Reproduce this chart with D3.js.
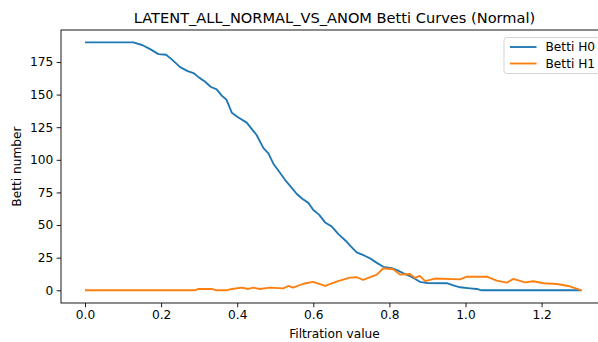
<!DOCTYPE html>
<html>
<head>
<meta charset="utf-8">
<script src="https://cdn.jsdelivr.net/npm/d3@7"></script>
<style>
  html, body { margin: 0; padding: 0; background: #fff; }
  svg { display: block; font-family: "DejaVu Sans", sans-serif; }
</style>
</head>
<body>
<div id="chart"></div>
<script>
// ---- data ----
const titleText = "LATENT_ALL_NORMAL_VS_ANOM Betti Curves (Normal)";
const xLabel = "Filtration value";
const yLabel = "Betti number";
const seriesNames = ["Betti H0", "Betti H1"];

const h0X = [0, 0.127, 0.15, 0.17, 0.193, 0.213, 0.228, 0.25, 0.27, 0.285, 0.30, 0.315, 0.33, 0.346, 0.36, 0.372, 0.386, 0.40, 0.425, 0.44, 0.451, 0.469, 0.482, 0.495, 0.51, 0.526, 0.539, 0.556, 0.572, 0.587, 0.60, 0.615, 0.631, 0.648, 0.666, 0.685, 0.696, 0.714, 0.735, 0.749, 0.767, 0.784, 0.806, 0.82, 0.837, 0.86, 0.88, 0.90, 0.951, 0.97, 0.986, 1.012, 1.03, 1.042, 1.305];
const h0Y = [190, 190, 188, 185, 181, 180.5, 177, 171, 168, 166.5, 163, 160, 156, 154, 149, 146, 136, 133, 128.5, 123, 119, 109, 105, 97, 91, 84.5, 80, 74, 70, 67, 61.5, 58, 52, 49, 43, 38, 34.5, 29, 26.5, 24.5, 21, 18, 17, 15.5, 13, 10, 6.5, 5.5, 5.4, 3.5, 2.3, 1.5, 1, 0, 0];

const h1X = [0, 0.289, 0.298, 0.333, 0.346, 0.372, 0.386, 0.412, 0.429, 0.442, 0.46, 0.486, 0.521, 0.534, 0.547, 0.574, 0.6, 0.631, 0.661, 0.696, 0.714, 0.731, 0.767, 0.784, 0.81, 0.828, 0.854, 0.867, 0.88, 0.894, 0.92, 0.986, 1.003, 1.056, 1.082, 1.108, 1.126, 1.156, 1.178, 1.205, 1.24, 1.27, 1.305];
const h1Y = [0, 0, 1, 1, 0, 0, 1, 2, 1, 2, 1, 2, 1.5, 3.3, 2, 5, 6.5, 3.3, 6.6, 9.7, 10, 8, 12, 16.9, 16.1, 12, 12.5, 9.5, 11, 7, 9, 8.4, 10.4, 10.4, 7.4, 5.8, 8.7, 6.1, 6.9, 5.4, 4.8, 3.3, 0];

const xTicks = [0.0, 0.2, 0.4, 0.6, 0.8, 1.0, 1.2];
const yTicks = [0, 25, 50, 75, 100, 125, 150, 175];
const colors = ["#1f77b4", "#ff7f0e"];

// ---- layout ----
const W = 598, H = 342;
const padL = 61, padR = 608, padT = 30, padB = 303;
const fs = 12.2;

const svg = d3.select("#chart").append("svg")
  .attr("width", W).attr("height", H);

const x = d3.scaleLinear().domain([-0.0631, 1.3745]).range([padL, padR]);
const y = d3.scaleLinear().domain([-9.75, 199.5]).range([padB, padT]);

// lines
const series = [
  h0X.map((v, i) => [v, h0Y[i]]),
  h1X.map((v, i) => [v, h1Y[i]])
];
const line = d3.line().x(d => x(d[0])).y(d => y(d[1]));

const plot = svg.append("g");
plot.append("defs").append("clipPath").attr("id", "clip")
  .append("rect").attr("x", padL).attr("y", padT)
  .attr("width", padR - padL).attr("height", padB - padT);

series.forEach((s, i) => {
  plot.append("path")
    .datum(s)
    .attr("clip-path", "url(#clip)")
    .attr("fill", "none")
    .attr("stroke", colors[i])
    .attr("stroke-width", 1.85)
    .attr("stroke-linejoin", "round")
    .attr("stroke-linecap", "butt")
    .attr("d", line);
});

// axes
const xAxis = d3.axisBottom(x).tickValues(xTicks).tickFormat(d3.format(".1f"))
  .tickSize(4.3).tickPadding(3.5);
const yAxis = d3.axisLeft(y).tickValues(yTicks).tickFormat(d3.format("d"))
  .tickSize(4.3).tickPadding(3.5);

const gx = svg.append("g").attr("transform", `translate(0,${padB})`).call(xAxis);
const gy = svg.append("g").attr("transform", `translate(${padL},0)`).call(yAxis);
[gx, gy].forEach(g => {
  g.select(".domain").remove();
  g.selectAll(".tick line").attr("stroke", "#000").attr("stroke-width", 0.9);
  g.selectAll(".tick text").attr("fill", "#000")
    .style("font-family", "DejaVu Sans, sans-serif").style("font-size", fs + "px");
});

// spines
const sp = svg.append("g").attr("stroke", "#000").attr("stroke-width", 0.9).attr("fill", "none");
sp.append("rect").attr("x", padL).attr("y", padT).attr("width", padR - padL).attr("height", padB - padT);

// labels
svg.append("text").attr("x", (padL + padR) / 2).attr("y", 22.5)
  .attr("text-anchor", "middle").style("font-size", "14.6px").attr("fill", "#000")
  .text(titleText);
svg.append("text").attr("x", (padL + padR) / 2).attr("y", 337.5)
  .attr("text-anchor", "middle").style("font-size", fs + "px").attr("fill", "#000")
  .text(xLabel);
svg.append("text")
  .attr("transform", `translate(20.5,${(padT + padB) / 2}) rotate(-90)`)
  .attr("text-anchor", "middle").style("font-size", fs + "px").attr("fill", "#000")
  .text(yLabel);

// legend
const lg = svg.append("g");
const lx = 504, ly = 37.5, lw = 97, lh = 36;
lg.append("rect").attr("x", lx).attr("y", ly).attr("width", lw).attr("height", lh)
  .attr("rx", 2.5).attr("fill", "#fff").attr("fill-opacity", 0.8)
  .attr("stroke", "#d0d0d0").attr("stroke-width", 0.9);
seriesNames.forEach((name, i) => {
  const cy = ly + 9.5 + i * 16.5;
  lg.append("line").attr("x1", lx + 6).attr("x2", lx + 32.5)
    .attr("y1", cy).attr("y2", cy)
    .attr("stroke", colors[i]).attr("stroke-width", 1.85);
  lg.append("text").attr("x", lx + 41.5).attr("y", cy + 4.3)
    .style("font-size", fs + "px").attr("fill", "#000").text(name);
});
</script>
</body>
</html>
